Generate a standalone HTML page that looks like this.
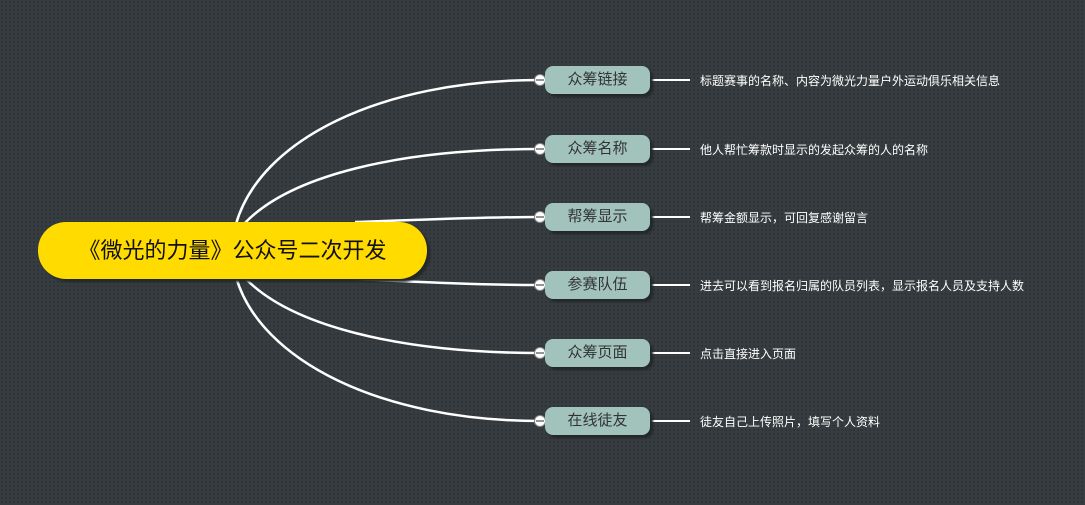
<!DOCTYPE html>
<html><head><meta charset="utf-8"><style>
body{margin:0;width:1085px;height:505px;overflow:hidden;background:#363c3f;background-image:radial-gradient(#2c3134 0.8px,transparent 0.9px);background-size:4px 4px;font-family:"Liberation Sans","Noto Sans CJK SC",sans-serif;position:relative}
.c{position:absolute;left:38px;top:222px;width:389px;height:57px;border-radius:28px;background:#ffdb00;box-shadow:3px 3px 2px #23282a;font-size:22px;line-height:57px;text-align:center;color:#111}
.n{position:absolute;left:545px;width:105px;height:28px;border-radius:8px;background:#a1c3bc;box-shadow:3px 3px 2px #23282a;font-size:15px;line-height:28px;text-align:center;color:#333}
.t{position:absolute;left:700px;font-size:12px;color:#fff;line-height:16px}
svg{position:absolute;left:0;top:0}
</style></head><body>
<svg width="1085" height="505">
<g fill="none" stroke="#fff" stroke-width="2.5">
<path d="M236 224 C260 140 380 80 540 80"/>
<path d="M244 224 C290 175 400 149 540 149"/>
<path d="M355 222 C420 220 480 217 540 217"/>
<path d="M355 279 C420 282 480 285 540 285"/>
<path d="M244 277 C290 326 400 353 540 353"/>
<path d="M236 277 C260 360 380 421 540 421"/>
<g stroke-width="2"><path d="M650 80H690M650 149H690M650 217H690M650 285H690M650 353H690M650 421H690"/></g>
</g>
<g fill="#fff" stroke="#888" stroke-width="1">
<circle cx="540" cy="80" r="5.5"/><circle cx="540" cy="149" r="5.5"/><circle cx="540" cy="217" r="5.5"/><circle cx="540" cy="285" r="5.5"/><circle cx="540" cy="353" r="5.5"/><circle cx="540" cy="421" r="5.5"/>
</g>
<g stroke="#555" stroke-width="1.2"><path d="M536 80h8M536 149h8M536 217h8M536 285h8M536 353h8M536 421h8"/></g>
</svg>
<div class="c">《微光的力量》公众号二次开发</div>
<div class="n" style="top:66px">众筹链接</div><div class="t" style="top:73px">标题赛事的名称、内容为微光力量户外运动俱乐相关信息</div>
<div class="n" style="top:135px">众筹名称</div><div class="t" style="top:142px">他人帮忙筹款时显示的发起众筹的人的名称</div>
<div class="n" style="top:203px">帮筹显示</div><div class="t" style="top:210px">帮筹金额显示，可回复感谢留言</div>
<div class="n" style="top:271px">参赛队伍</div><div class="t" style="top:278px">进去可以看到报名归属的队员列表，显示报名人员及支持人数</div>
<div class="n" style="top:339px">众筹页面</div><div class="t" style="top:346px">点击直接进入页面</div>
<div class="n" style="top:407px">在线徒友</div><div class="t" style="top:414px">徒友自己上传照片，填写个人资料</div>
</body></html>
